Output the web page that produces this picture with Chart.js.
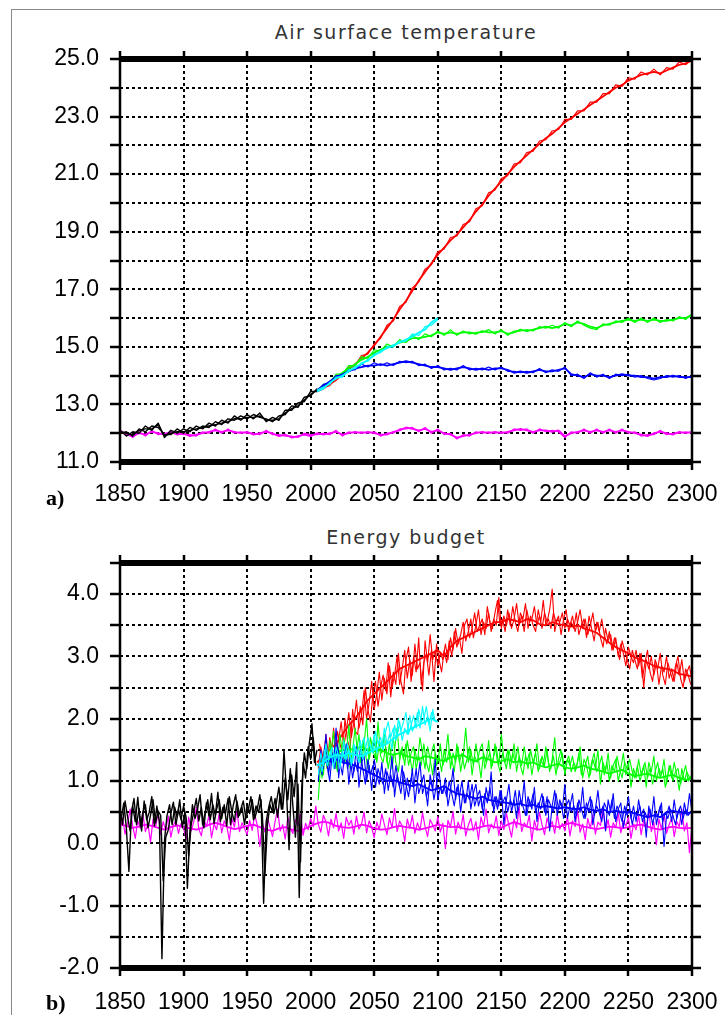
<!DOCTYPE html>
<html>
<head>
<meta charset="utf-8">
<script src="https://cdn.jsdelivr.net/npm/chart.js@4.4.1/dist/chart.umd.min.js"></script>
<style>
  html, body { margin: 0; padding: 0; background: #fff; }
  body { width: 725px; height: 1015px; position: relative; overflow: hidden; }
  .sheet { position: absolute; left: 11px; top: 9px; right: -4px; bottom: -4px;
           border-left: 1px solid #888; border-top: 1px solid #888; }
  .panel { position: absolute; left: 0; width: 725px; }
  .panel canvas { display: block; }
  .title { position: absolute; left: 120px; width: 572px; text-align: center; line-height: 23px;
           font: 19px "DejaVu Sans", sans-serif; letter-spacing: 1.5px; color: #333; }
  .tag { position: absolute; left: 46px; line-height: 24px; font: bold 22px "Liberation Serif", serif; }
</style>
</head>
<body>
<div class="sheet"></div>
<div class="title" style="top:21px">Air surface temperature</div>
<div class="panel" style="top:0"><canvas id="tasChart" width="725" height="510"></canvas></div>
<div class="tag" style="top:485px">a)</div>
<div class="title" style="top:526px">Energy budget</div>
<div class="panel" style="top:510px"><canvas id="budgetChart" width="725" height="505"></canvas></div>
<div class="tag" style="top:990px">b)</div>

<script>
// ---------- Air surface temperature (5-yearly) ----------
// control run, 1850-2300
const tasCtrlA = [
  12.1, 11.95, 11.9, 12.0, 11.95, 12.05, 12.0, 11.95, 12.05, 11.95,
  12.0, 11.9, 11.95, 12.0, 12.05, 12.1, 12.05, 12.1, 12.05, 12.0,
  12.05, 11.95, 12.0, 12.05, 12.0, 11.9, 11.95, 11.85, 11.9, 11.95,
  11.9, 12.0, 11.95, 12.0, 12.05, 11.95, 12.0, 12.05, 12.0, 12.05,
  12.0, 11.95, 11.95, 12.05, 12.1, 12.2, 12.15, 12.1, 12.15, 12.05,
  12.1, 12.0, 11.95, 11.85, 11.9, 11.95, 12.0, 12.05, 12.0, 12.05,
  12.0, 12.05, 12.1, 12.15, 12.1, 12.05, 12.1, 12.1, 12.05, 12.1,
  11.9, 12.0, 12.05, 12.1, 12.05, 12.1, 12.05, 12.1, 12.05, 12.1,
  12.05, 12.0, 11.95, 11.9, 12.0, 12.05, 12.0, 11.95, 12.05, 12.0,
  12.05
];
const tasCtrlB = [
  12.05, 12.0, 11.85, 12.05, 11.9, 12.1, 11.95, 12.0, 12.0, 12.0,
  11.95, 11.95, 11.9, 12.05, 12.0, 12.15, 12.0, 12.15, 12.0, 12.05,
  12.0, 12.0, 11.95, 12.1, 11.95, 11.95, 11.9, 11.9, 11.85, 12.0,
  11.95, 11.95, 12.0, 11.95, 12.1, 11.9, 12.05, 12.0, 12.05, 12.0,
  12.05, 11.9, 12.0, 12.0, 12.15, 12.15, 12.2, 12.05, 12.2, 12.0,
  12.15, 11.95, 12.0, 11.8, 11.95, 11.9, 12.05, 12.0, 12.05, 12.0,
  12.05, 12.0, 12.15, 12.1, 12.15, 12.0, 12.15, 12.05, 12.1, 12.05,
  11.85, 12.05, 12.0, 12.15, 12.0, 12.15, 12.0, 12.15, 12.0, 12.15,
  12.0, 12.05, 11.9, 11.95, 11.95, 12.1, 11.95, 12.0, 12.0, 12.05,
  12.0
];
// historical members, 1850-2005
const tasHistA = [
  12.05, 12.0, 11.95, 12.1, 12.15, 12.15, 12.3, 11.9, 12.0, 12.05,
  12.05, 12.1, 12.15, 12.2, 12.25, 12.3, 12.35, 12.4, 12.5, 12.5,
  12.55, 12.55, 12.6, 12.45, 12.45, 12.5, 12.7, 12.85, 12.95, 13.15,
  13.35, 13.5
];
const tasHistB = [
  12.1, 11.9, 12.05, 12.0, 12.25, 12.1, 12.35, 11.85, 12.1, 12.0,
  12.15, 12.05, 12.25, 12.15, 12.35, 12.25, 12.45, 12.35, 12.6, 12.45,
  12.65, 12.5, 12.7, 12.4, 12.55, 12.45, 12.8, 12.8, 13.05, 13.1,
  13.45, 13.45
];
const tasHistC = [
  12.0, 12.05, 11.9, 12.15, 12.05, 12.25, 12.2, 11.95, 11.95, 12.15,
  12.0, 12.2, 12.1, 12.25, 12.2, 12.4, 12.3, 12.5, 12.45, 12.6,
  12.5, 12.65, 12.55, 12.5, 12.4, 12.6, 12.65, 12.95, 12.9, 13.25,
  13.3, 13.55
];
// scenarios, 2005-2300 (RCP6.0 to 2100)
const tasRcp85A = [
  13.45, 13.55, 13.7, 13.85, 14.05, 14.2, 14.4, 14.6, 14.8, 15.05,
  15.35, 15.65, 15.95, 16.3, 16.6, 16.95, 17.3, 17.6, 17.9, 18.2,
  18.45, 18.7, 18.9, 19.15, 19.4, 19.7, 19.95, 20.25, 20.5, 20.75,
  21.0, 21.25, 21.45, 21.65, 21.85, 22.05, 22.25, 22.4, 22.6, 22.8,
  22.95, 23.1, 23.25, 23.4, 23.55, 23.7, 23.85, 24.0, 24.1, 24.25,
  24.35, 24.45, 24.5, 24.55, 24.5, 24.6, 24.7, 24.8, 24.85, 24.95
];
const tasRcp85B = [
  13.5, 13.6, 13.65, 13.95, 14.0, 14.3, 14.35, 14.7, 14.75, 15.1,
  15.3, 15.75, 15.9, 16.4, 16.55, 17.05, 17.25, 17.7, 17.85, 18.3,
  18.4, 18.8, 18.85, 19.25, 19.35, 19.8, 19.9, 20.35, 20.45, 20.85,
  20.95, 21.35, 21.4, 21.75, 21.8, 22.15, 22.2, 22.5, 22.55, 22.9,
  22.9, 23.2, 23.2, 23.5, 23.5, 23.8, 23.8, 24.1, 24.05, 24.35,
  24.3, 24.55, 24.45, 24.65, 24.45, 24.7, 24.65, 24.9, 24.8, 25.0
];
const tasRcp45A = [
  13.5, 13.6, 13.8, 13.95, 14.1, 14.25, 14.4, 14.55, 14.65, 14.8,
  14.9, 15.0, 15.05, 15.15, 15.2, 15.3, 15.3, 15.35, 15.4, 15.5,
  15.45, 15.5, 15.45, 15.5, 15.5, 15.45, 15.55, 15.5, 15.5, 15.55,
  15.45, 15.5, 15.6, 15.55, 15.6, 15.65, 15.7, 15.65, 15.7, 15.8,
  15.75, 15.85, 15.8, 15.7, 15.65, 15.75, 15.8, 15.85, 15.9, 15.95,
  15.9, 15.95, 15.9, 15.95, 15.9, 15.9, 15.95, 16.0, 16.0, 16.1
];
const tasRcp45B = [
  13.45, 13.7, 13.75, 14.05, 14.05, 14.35, 14.35, 14.65, 14.6, 14.9,
  14.85, 15.1, 15.0, 15.25, 15.15, 15.4, 15.25, 15.45, 15.35, 15.55,
  15.4, 15.6, 15.4, 15.55, 15.45, 15.5, 15.5, 15.6, 15.45, 15.6,
  15.4, 15.55, 15.55, 15.6, 15.55, 15.7, 15.65, 15.75, 15.65, 15.85,
  15.7, 15.9, 15.75, 15.65, 15.6, 15.8, 15.75, 15.9, 15.85, 16.0,
  15.85, 16.0, 15.85, 16.0, 15.85, 15.95, 15.9, 16.05, 15.95, 16.15
];
const tasRcp26A = [
  13.5, 13.65, 13.8, 13.95, 14.05, 14.15, 14.25, 14.3, 14.35, 14.35,
  14.4, 14.35, 14.4, 14.45, 14.5, 14.45, 14.4, 14.35, 14.3, 14.3,
  14.25, 14.2, 14.25, 14.3, 14.25, 14.2, 14.25, 14.2, 14.25, 14.25,
  14.2, 14.1, 14.15, 14.1, 14.15, 14.2, 14.15, 14.15, 14.2, 14.25,
  14.05, 14.0, 13.95, 14.05, 14.0, 14.0, 13.95, 14.0, 14.05, 14.0,
  14.0, 13.95, 13.95, 13.9, 13.95, 13.95, 14.0, 13.95, 13.95, 13.95
];
const tasRcp26B = [
  13.45, 13.7, 13.75, 14.0, 14.0, 14.2, 14.2, 14.4, 14.3, 14.45,
  14.35, 14.45, 14.35, 14.5, 14.45, 14.5, 14.35, 14.4, 14.25, 14.35,
  14.2, 14.25, 14.2, 14.35, 14.2, 14.25, 14.2, 14.3, 14.2, 14.3,
  14.15, 14.15, 14.1, 14.15, 14.1, 14.25, 14.1, 14.2, 14.15, 14.3,
  14.0, 14.05, 13.9, 14.1, 13.95, 14.05, 13.9, 14.05, 14.0, 14.05,
  13.95, 14.0, 13.9, 13.85, 13.9, 14.0, 13.95, 14.0, 13.9, 14.0
];
const tasRcp60A = [
  13.45, 13.55, 13.75, 13.9, 14.0, 14.15, 14.3, 14.4, 14.55, 14.7,
  14.85, 14.95, 15.05, 15.15, 15.25, 15.35, 15.5, 15.6, 15.85, 16.0
];
const tasRcp60B = [
  13.5, 13.6, 13.7, 13.95, 13.95, 14.2, 14.25, 14.45, 14.5, 14.75,
  14.8, 15.0, 15.0, 15.2, 15.2, 15.45, 15.4, 15.7, 15.75, 15.95
];

// ---------- Energy budget ----------
// control run: 2-yearly values 1850-2300 and 5-yearly running mean
const budCtrlRun = [
  0.22, 0.41, 0.15, 0.33, 0.55, 0.28, 0.08, 0.36, 0.24, 0.47, 0.19, 0.31, 0.02, 0.39, 0.26, 0.5, 0.14, 0.35, 0.21, 0.44, 0.1, 0.29, 0.37, 0.16, 0.32,
  0.25, 0.06, 0.42, 0.2, 0.34, 0.58, 0.23, 0.12, 0.38, 0.27, 0.45, 0.09, 0.31, 0.22, 0.48, 0.17, 0.36, 0.28, 0.05, 0.4, 0.26, 0.52, 0.19, 0.33, 0.24,
  0.14, 0.37, 0.21, 0.46, 0.29, -0.05, 0.33, 0.18, 0.41, 0.26, 0.11, 0.35, 0.55, 0.2, 0.3, 0.07, 0.43, 0.24, 0.16, 0.38, 0.28, 0.47, 0.13, 0.32, 0.22,
  0.4, 0.27, 0.6, 0.31, 0.18, 0.45, 0.35, 0.12, 0.39, 0.25, 0.48, 0.2, 0.33, 0.08, 0.42, 0.29, 0.37, 0.15, 0.44, 0.23, 0.31, 0.5, 0.17, 0.36, 0.26,
  0.09, 0.34, 0.22, 0.47, 0.3, 0.14, 0.41, 0.25, 0.56, 0.19, 0.36, 0.28, 0.03, 0.39, 0.24, 0.45, 0.16, 0.33, 0.21, 0.49, 0.27, 0.11, 0.38, 0.3, 0.2,
  0.43, 0.18, 0.32, -0.08, 0.37, 0.26, 0.51, 0.15, 0.34, 0.23, 0.46, 0.12, 0.29, 0.4, 0.2, 0.35, 0.06, 0.42, 0.27, 0.55, 0.17, 0.31, 0.24, 0.44, 0.13,
  0.36, 0.22, 0.48, 0.28, 0.1, 0.39, 0.25, 0.58, 0.19, 0.33, 0.27, 0.45, 0.04, 0.37, 0.21, 0.5, 0.3, 0.14, 0.41, 0.26, 0.35, 0.16, 0.47, 0.23, 0.32,
  0.2, 0.43, 0.12, 0.36, 0.27, 0.53, 0.18, 0.31, 0.06, 0.4, 0.24, 0.46, 0.15, 0.34, 0.29, 0.57, 0.21, 0.38, 0.1, 0.33, 0.25, 0.49, 0.17, 0.36, 0.28,
  0.42, 0.08, 0.31, 0.22, 0.45, 0.14, 0.37, 0.26, 0.52, 0.19, 0.34, -0.02, 0.39, 0.23, 0.47, 0.16, 0.3, 0.41, 0.11, 0.35, 0.27, 0.55, 0.2, 0.33, -0.15,
  0.3
];
const budCtrlMean = [
  0.3, 0.28, 0.25, 0.27, 0.3, 0.28, 0.25, 0.22, 0.26, 0.29,
  0.27, 0.24, 0.22, 0.25, 0.3, 0.33, 0.3, 0.26, 0.23, 0.25,
  0.28, 0.3, 0.26, 0.22, 0.2, 0.24, 0.26, 0.22, 0.2, 0.23,
  0.28, 0.32, 0.35, 0.33, 0.28, 0.26, 0.25, 0.27, 0.3, 0.28,
  0.24, 0.22, 0.23, 0.26, 0.28, 0.26, 0.25, 0.22, 0.24, 0.27,
  0.3, 0.28, 0.26, 0.27, 0.24, 0.22, 0.24, 0.27, 0.29, 0.26,
  0.25, 0.3, 0.34, 0.31, 0.27, 0.24, 0.22, 0.25, 0.28, 0.26,
  0.3, 0.33, 0.3, 0.27, 0.25, 0.23, 0.25, 0.27, 0.26, 0.24,
  0.26, 0.29, 0.3, 0.27, 0.24, 0.22, 0.25, 0.27, 0.25, 0.24,
  0.25
];
// historical members: even years 1850-2004, odd years 1851-2005
const budHistEven = [
  0.55, 0.3, 0.68, 0.42, 0.2, 0.6, 0.35, 0.74, 0.28, 0.5, 0.62, 0.25, 0.45, 0.7, 0.33, 0.52, 0.45, -0.6, 0.1, 0.22, 0.48, 0.66, 0.3, 0.55, 0.38,
  0.6, 0.42, -0.2, 0.3, 0.5, 0.72, 0.36, 0.58, 0.25, 0.65, 0.44, 0.8, 0.32, 0.55, 0.7, 0.4, 0.62, 0.28, 0.75, 0.5, 0.35, 0.68, 0.45, 0.58, 0.3,
  0.62, 0.48, 0.7, 0.4, 0.55, 0.78, 0.45, -0.5, 0.3, 0.62, 0.5, 0.72, 0.42, 0.8, 0.55, 1.05, 0.7, 1.2, 0.6, 0.1, 0.95, -0.3, 1.3, 1.05, 1.55,
  1.35, 1.7, 1.25
];
const budHistOdd = [
  0.4, 0.65, 0.25, -0.45, 0.5, 0.72, 0.3, 0.56, 0.2, 0.68, 0.38, 0.5, 0.75, 0.28, 0.6, 0.35, -1.85, 0.05, 0.45, 0.62, 0.3, 0.58, 0.42, 0.7, 0.25,
  0.5, -0.72, 0.2, 0.62, 0.4, 0.55, 0.78, 0.3, 0.5, 0.7, 0.38, 0.62, 0.45, 0.82, 0.35, 0.58, 0.48, 0.72, 0.3, 0.6, 0.78, 0.42, 0.55, 0.68, 0.4,
  0.55, 0.75, 0.38, 0.6, 0.5, 0.7, -0.96, 0.35, 0.58, 0.75, 0.48, 0.65, 0.9, 0.55, 1.5, 0.82, -0.1, 1.1, 0.75, 1.3, -0.87, 0.9, 1.45, 1.2, 1.62,
  1.92, 1.3, 1.5
];
// scenarios: runs on even years from 2006 and odd years from 2007, 5-yearly means from 2005
const budRcp85Even = [
  1.2, 1.55, 1.35, 1.75, 1.4, 1.3, 1.85, 1.5, 1.65, 1.95, 1.55, 1.8, 2.1, 1.7, 1.95, 2.3, 1.85, 2.05, 2.45, 2.0, 2.25, 2.6, 2.15, 2.4, 2.75,
  2.3, 2.65, 2.4, 2.85, 2.5, 2.7, 3.0, 2.55, 2.8, 3.1, 2.65, 2.95, 2.7, 3.2, 2.8, 2.9, 2.45, 3.25, 2.9, 3.35, 2.95, 3.1, 2.85, 3.05, 2.95,
  3.2, 2.95, 3.3, 3.1, 3.45, 3.2, 3.35, 3.55, 3.25, 3.4, 3.6, 3.3, 3.5, 3.75, 3.35, 3.55, 3.45, 3.7, 3.4, 3.6, 3.5, 3.95, 3.45, 3.65, 3.5,
  3.7, 3.45, 3.6, 3.85, 3.5, 3.65, 3.4, 3.75, 3.55, 3.6, 3.8, 3.5, 3.65, 3.45, 3.7, 3.55, 3.75, 4.08, 3.4, 3.6, 3.55, 3.7, 3.45, 3.6, 3.5,
  3.65, 3.4, 3.55, 3.75, 3.45, 3.6, 3.35, 3.5, 3.7, 3.4, 3.55, 3.3, 3.15, 3.45, 3.25, 3.35, 3.1, 3.3, 3.0, 3.2, 3.05, 2.85, 3.15, 3.0, 2.9,
  3.1, 2.85, 3.05, 2.5, 2.95, 2.8, 3.0, 2.7, 2.9, 2.55, 2.85, 2.75, 3.0, 2.65, 2.8, 2.6, 2.9, 2.7, 2.95, 2.6, 2.75, 2.85, 2.6
];
const budRcp85Odd = [
  1.6, 1.25, 1.5, 1.2, 1.7, 1.45, 1.35, 1.8, 1.6, 1.45, 2.0, 1.65, 1.5, 2.15, 1.8, 1.75, 2.2, 1.9, 2.5, 2.15, 1.95, 2.4, 2.6, 2.2, 2.5,
  2.7, 2.45, 2.9, 2.35, 2.75, 2.55, 3.05, 2.6, 2.4, 2.95, 3.15, 2.6, 3.0, 2.75, 3.3, 2.55, 2.9, 3.05, 2.7, 3.1, 2.6, 3.2, 2.95, 2.75, 3.1,
  2.9, 3.25, 3.0, 3.4, 3.15, 3.3, 3.05, 3.5, 3.6, 3.3, 3.45, 3.7, 3.4, 3.5, 3.6, 3.35, 3.8, 3.55, 3.45, 3.7, 3.9, 3.5, 3.6, 3.4, 3.75,
  3.5, 3.8, 3.55, 3.4, 3.7, 3.6, 3.85, 3.45, 3.65, 3.5, 3.4, 3.75, 3.55, 3.9, 3.5, 3.6, 3.45, 3.7, 3.55, 3.65, 3.35, 3.6, 3.75, 3.4, 3.55,
  3.45, 3.7, 3.35, 3.5, 3.6, 3.3, 3.65, 3.45, 3.25, 3.55, 3.4, 3.6, 3.35, 3.2, 3.4, 3.1, 3.3, 3.15, 2.95, 3.25, 3.1, 2.95, 2.8, 3.1, 2.95,
  2.8, 3.05, 2.65, 2.9, 3.1, 2.75, 2.6, 2.95, 2.8, 3.05, 2.7, 2.55, 2.9, 2.75, 2.6, 2.85, 3.0, 2.65, 2.5, 2.8, 2.7, 2.55
];
const budRcp85Mean = [
  1.3, 1.4, 1.5, 1.6, 1.75, 1.9, 2.0, 2.15, 2.3, 2.4,
  2.5, 2.6, 2.7, 2.8, 2.85, 2.9, 2.95, 3.0, 3.05, 3.1,
  3.0, 3.15, 3.25, 3.3, 3.35, 3.4, 3.45, 3.5, 3.55, 3.55,
  3.6, 3.58, 3.55, 3.6, 3.58, 3.52, 3.5, 3.55, 3.52, 3.5,
  3.48, 3.5, 3.45, 3.42, 3.38, 3.3, 3.22, 3.15, 3.1, 3.05,
  2.98, 2.95, 2.9, 2.85, 2.82, 2.8, 2.78, 2.72, 2.7, 2.68
];
const budRcp45Even = [
  0.7, 1.35, 1.1, 1.6, 1.25, 1.45, 1.8, 1.2, 1.5, 1.35, 1.7, 1.4, 1.9, 1.3, 1.55, 1.45, 1.75, 1.25, 1.6, 2.0, 1.35, 1.55, 1.7, 1.3, 1.6,
  1.45, 1.75, 1.3, 1.6, 1.2, 1.5, 1.85, 1.35, 1.55, 1.25, 1.65, 1.4, 1.15, 1.5, 1.3, 1.7, 1.45, 1.2, 1.55, 1.35, 1.1, 1.45, 1.3, 1.6, 1.25,
  1.4, 1.75, 1.2, 1.45, 1.3, 1.55, 1.15, 1.4, 1.85, 1.3, 1.5, 1.25, 1.6, 1.35, 1.05, 1.45, 1.3, 1.65, 1.2, 1.4, 1.55, 1.25, 1.75, 1.35, 1.2,
  1.5, 1.3, 1.6, 1.15, 1.4, 1.25, 1.55, 1.3, 1.45, 1.1, 1.35, 1.6, 1.2, 1.4, 1.25, 1.5, 1.15, 1.35, 1.7, 1.2, 1.3, 1.45, 1.1, 1.35, 1.25,
  1.4, 1.15, 1.3, 1.55, 1.05, 1.25, 1.4, 1.1, 1.35, 1.2, 1.5, 0.95, 1.3, 1.15, 1.45, 1.05, 1.25, 1.35, 1.0, 1.2, 1.45, 1.1, 1.3, 0.9, 1.2,
  1.05, 1.35, 1.1, 1.25, 0.9, 1.3, 1.15, 1.4, 1.0, 1.2, 1.1, 1.35, 0.95, 1.25, 1.05, 1.3, 1.1, 0.85, 1.2, 1.0, 1.15, 1.05, 1.1
];
const budRcp45Odd = [
  1.3, 1.05, 1.55, 1.2, 1.65, 1.3, 1.5, 1.15, 1.75, 1.45, 1.3, 1.6, 1.2, 1.5, 1.85, 1.4, 1.3, 1.65, 1.45, 1.2, 1.7, 1.5, 1.35, 1.95, 1.4,
  1.3, 1.55, 1.2, 1.45, 1.7, 1.3, 1.15, 1.5, 1.35, 1.6, 1.25, 1.45, 1.55, 1.2, 1.4, 1.25, 1.6, 1.3, 1.15, 1.45, 1.6, 1.25, 1.4, 1.15, 1.5,
  1.3, 1.5, 1.35, 1.15, 1.6, 1.3, 1.45, 1.2, 1.35, 1.55, 1.1, 1.4, 1.3, 1.5, 1.6, 1.2, 1.35, 1.45, 1.25, 1.6, 1.3, 1.15, 1.45, 1.3, 1.5,
  1.2, 1.45, 1.3, 1.55, 1.25, 1.1, 1.4, 1.2, 1.5, 1.3, 1.45, 1.15, 1.35, 1.25, 1.55, 1.3, 1.2, 1.4, 1.1, 1.35, 1.5, 1.2, 1.3, 1.4, 1.15,
  1.3, 1.2, 1.45, 1.1, 1.35, 1.25, 1.05, 1.3, 1.45, 1.15, 1.25, 1.4, 1.1, 1.3, 1.0, 1.25, 1.15, 1.4, 1.2, 1.05, 1.3, 1.2, 1.35, 1.15, 1.05,
  1.25, 1.0, 1.15, 1.3, 1.05, 1.2, 0.95, 1.15, 1.3, 1.05, 1.2, 0.9, 1.1, 1.25, 1.0, 1.15, 1.2, 0.95, 1.1, 1.25, 1.0, 1.05
];
const budRcp45Mean = [
  1.25, 1.3, 1.4, 1.45, 1.5, 1.5, 1.52, 1.55, 1.5, 1.48,
  1.5, 1.45, 1.42, 1.45, 1.4, 1.38, 1.35, 1.4, 1.38, 1.35,
  1.32, 1.38, 1.4, 1.42, 1.35, 1.32, 1.38, 1.35, 1.3, 1.32,
  1.35, 1.3, 1.32, 1.28, 1.3, 1.25, 1.22, 1.25, 1.28, 1.22,
  1.2, 1.22, 1.25, 1.2, 1.18, 1.15, 1.12, 1.15, 1.18, 1.12,
  1.08, 1.1, 1.12, 1.08, 1.05, 1.08, 1.1, 1.05, 1.02, 1.05
];
const budRcp26Even = [
  1.0, 1.5, 1.2, 1.75, 1.1, 1.4, 1.3, 1.85, 1.05, 1.45, 1.25, 1.6, 0.95, 1.35, 1.15, 1.55, 0.9, 1.3, 1.4, 1.0, 1.25, 0.85, 1.35, 1.1, 0.95,
  1.3, 0.8, 1.15, 1.0, 1.4, 0.75, 1.1, 0.9, 1.25, 0.7, 1.05, 0.85, 1.2, 0.65, 1.0, 1.3, 0.8, 0.95, 0.6, 1.1, 0.85, 1.35, 0.7, 0.9, 0.8,
  1.05, 0.6, 0.85, 1.2, 0.7, 0.95, 0.5, 0.85, 0.65, 1.0, 0.55, 0.8, 0.95, 0.6, 0.75, 0.45, 0.9, 0.7, 1.15, 0.5, 0.75, 0.6, 0.85, 0.3, 0.7,
  0.95, 0.5, 0.7, 0.4, 0.85, 0.6, 1.0, 0.45, 0.7, 0.55, 0.9, 0.35, 0.65, 0.8, 0.5, 0.75, 0.2, 0.6, 0.85, 0.45, 0.7, 0.55, 0.95, 0.4, 0.6,
  0.8, 0.35, 0.65, 0.5, 0.9, 0.4, 0.6, 0.75, 0.3, 0.55, 0.85, 0.45, 0.6, 0.2, 0.7, 0.5, 0.8, 0.35, 0.55, 0.65, 0.25, 0.5, 0.75, 0.4, 0.6,
  0.35, 0.7, 0.45, 0.55, 0.1, 0.6, 0.4, 0.75, 0.3, 0.5, 0.65, -0.05, 0.45, 0.6, 0.35, 0.7, 0.4, 0.55, 0.3, 0.65, 0.45, 0.8, 0.5
];
const budRcp26Odd = [
  1.35, 1.1, 1.55, 1.25, 1.0, 1.45, 1.2, 1.6, 1.3, 1.1, 1.5, 1.2, 1.4, 1.05, 1.3, 1.15, 1.5, 1.2, 0.95, 1.35, 1.1, 1.25, 0.9, 1.2, 1.05,
  0.95, 1.2, 0.85, 1.1, 0.9, 1.25, 1.0, 0.8, 1.15, 0.95, 0.75, 1.05, 0.9, 1.2, 0.8, 0.95, 1.1, 0.75, 0.9, 1.0, 0.7, 0.95, 1.15, 0.8, 0.9,
  0.75, 1.0, 0.8, 0.6, 0.9, 0.75, 1.0, 0.65, 0.8, 0.7, 0.95, 0.6, 0.75, 0.85, 0.55, 0.8, 0.65, 0.9, 0.6, 0.75, 0.55, 0.85, 0.65, 0.75, 0.5,
  0.7, 0.6, 0.85, 0.5, 0.7, 0.6, 0.45, 0.75, 0.6, 0.8, 0.5, 0.65, 0.55, 0.75, 0.45, 0.7, 0.6, 0.5, 0.8, 0.55, 0.65, 0.4, 0.6, 0.7, 0.5,
  0.6, 0.45, 0.7, 0.55, 0.4, 0.65, 0.5, 0.7, 0.45, 0.6, 0.5, 0.35, 0.65, 0.55, 0.45, 0.7, 0.4, 0.6, 0.5, 0.35, 0.6, 0.45, 0.55, 0.3, 0.5,
  0.45, 0.6, 0.35, 0.5, 0.4, 0.55, 0.3, 0.5, 0.45, 0.6, 0.35, 0.5, 0.4, 0.55, 0.45, 0.3, 0.5, 0.6, 0.4, 0.55, 0.45, 0.5
];
const budRcp26Mean = [
  1.25, 1.3, 1.32, 1.35, 1.3, 1.28, 1.25, 1.2, 1.15, 1.1,
  1.05, 1.0, 1.02, 0.98, 0.95, 0.92, 0.95, 0.9, 0.85, 0.88,
  0.92, 0.85, 0.8, 0.78, 0.75, 0.72, 0.75, 0.7, 0.68, 0.66,
  0.65, 0.62, 0.64, 0.6, 0.62, 0.58, 0.6, 0.58, 0.56, 0.58,
  0.56, 0.55, 0.58, 0.54, 0.52, 0.55, 0.5, 0.52, 0.5, 0.5,
  0.48, 0.45, 0.42, 0.45, 0.42, 0.5, 0.52, 0.5, 0.48, 0.5
];
const budRcp60Even = [
  1.1, 1.45, 1.25, 1.6, 1.35, 1.5, 1.2, 1.55, 1.4, 1.3,
  1.65, 1.35, 1.5, 1.25, 1.6, 1.45, 1.3, 1.55, 1.7, 1.4,
  1.6, 1.5, 1.75, 1.45, 1.65, 1.55, 1.85, 1.6, 1.75, 1.5,
  1.9, 1.7, 1.95, 1.65, 1.85, 1.75, 2.05, 1.8, 1.9, 2.1,
  1.85, 2.2, 1.9, 2.05, 1.8, 2.15, 1.95
];
const budRcp60Odd = [
  1.3, 1.15, 1.5, 1.25, 1.4, 1.55, 1.3, 1.45, 1.2, 1.5,
  1.35, 1.6, 1.4, 1.3, 1.55, 1.45, 1.65, 1.35, 1.5, 1.7,
  1.55, 1.45, 1.8, 1.6, 1.7, 1.5, 1.8, 1.95, 1.7, 1.85,
  1.65, 2.0, 1.8, 1.95, 2.1, 1.75, 1.9, 2.05, 1.85, 2.15,
  1.95, 2.0, 2.2, 1.9, 2.1, 2.0
];
const budRcp60Mean = [
  1.25, 1.3, 1.38, 1.42, 1.4, 1.45, 1.42, 1.4, 1.45, 1.5,
  1.55, 1.6, 1.68, 1.75, 1.8, 1.85, 1.9, 1.95, 2.0, 1.95
];

const RED = "#ff0000", GREEN = "#00ff00", BLUE = "#0000ff", CYAN = "#00ffff", MAGENTA = "#ff00ff", BLACK = "#000000";

// year/value pairs from a start year and a fixed step
const series = (start, step, values) => values.map((v, i) => ({ x: start + i * step, y: v }));

function line(points, color, width, order) {
  return {
    data: points, borderColor: color, borderWidth: width, order,
    pointRadius: 0, tension: 0, fill: false, borderJoinStyle: "round",
  };
}

// dotted grid under the data, framed box with outward ticks on top of it
const gradsFrame = {
  id: "gradsFrame",
  beforeDatasetsDraw(chart) {
    const { ctx, chartArea: a, scales: { x, y } } = chart;
    ctx.save();
    ctx.strokeStyle = "#000";
    ctx.lineWidth = 2;
    ctx.setLineDash([3, 3]);
    ctx.beginPath();
    x.ticks.forEach((t) => {
      const px = Math.round(x.getPixelForValue(t.value));
      if (px <= a.left + 1 || px >= a.right - 1) return;
      ctx.moveTo(px, a.top);
      ctx.lineTo(px, a.bottom);
    });
    y.ticks.forEach((t) => {
      const py = Math.round(y.getPixelForValue(t.value));
      if (py <= a.top + 1 || py >= a.bottom - 1) return;
      ctx.moveTo(a.left, py);
      ctx.lineTo(a.right, py);
    });
    ctx.stroke();
    ctx.restore();
  },
  afterDatasetsDraw(chart) {
    const { ctx, chartArea: a, scales: { x, y } } = chart;
    ctx.save();
    ctx.strokeStyle = "#000";
    ctx.fillStyle = "#000";
    ctx.lineWidth = 2.5;
    ctx.beginPath();
    x.ticks.forEach((t) => {
      const px = Math.round(x.getPixelForValue(t.value));
      ctx.moveTo(px, a.top - 8);
      ctx.lineTo(px, a.top);
      ctx.moveTo(px, a.bottom);
      ctx.lineTo(px, a.bottom + 8);
    });
    y.ticks.forEach((t) => {
      const py = Math.round(y.getPixelForValue(t.value));
      ctx.moveTo(a.left - 10, py);
      ctx.lineTo(a.left, py);
      ctx.moveTo(a.right, py);
      ctx.lineTo(a.right + 9, py);
    });
    ctx.moveTo(a.left, a.top);
    ctx.lineTo(a.left, a.bottom);
    ctx.moveTo(a.right, a.top);
    ctx.lineTo(a.right, a.bottom);
    ctx.stroke();
    // heavy top and bottom rules
    ctx.fillRect(a.left - 1, a.top - 3, a.right - a.left + 2, 6);
    ctx.fillRect(a.left - 1, a.bottom - 3, a.right - a.left + 2, 6);
    ctx.restore();
  },
};

Chart.defaults.font.family = '"Liberation Sans", Arial, sans-serif';
Chart.defaults.color = "#000";

function panelOptions({ yMin, yMax, yStep, isLabelled, topPad, axisHeight, labelPad }) {
  const tickFont = { size: 23 };
  return {
    responsive: false,
    animation: false,
    events: [],
    layout: { padding: { top: topPad, right: 33, left: 0, bottom: 0 } },
    plugins: { legend: { display: false }, tooltip: { enabled: false } },
    scales: {
      x: {
        type: "linear", min: 1850, max: 2300,
        grid: { display: false }, border: { display: false },
        ticks: { stepSize: 50, autoSkip: false, maxRotation: 0, padding: labelPad, font: tickFont, color: "#000",
                 callback: (v) => String(v) },
        afterFit: (s) => { s.height = axisHeight; s.paddingLeft = 0; s.paddingRight = 0; },
      },
      y: {
        type: "linear", min: yMin, max: yMax,
        grid: { display: false }, border: { display: false },
        ticks: { stepSize: yStep, autoSkip: false, padding: 13, font: tickFont, color: "#000",
                 callback: (v) => (isLabelled(v) ? v.toFixed(1) : "") },
        afterFit: (s) => { s.width = 120; },
      },
    },
  };
}

// --- temperature panel ---
new Chart(document.getElementById("tasChart"), {
  type: "line",
  data: {
    datasets: [
      line(series(2005, 5, tasRcp60B), CYAN, 1.2, 2),
      line(series(2005, 5, tasRcp60A), CYAN, 1.8, 1),
      line(series(2005, 5, tasRcp26B), BLUE, 1.2, 4),
      line(series(2005, 5, tasRcp26A), BLUE, 1.8, 3),
      line(series(2005, 5, tasRcp45B), GREEN, 1.2, 6),
      line(series(2005, 5, tasRcp45A), GREEN, 1.8, 5),
      line(series(2005, 5, tasRcp85B), RED, 1.2, 8),
      line(series(2005, 5, tasRcp85A), RED, 1.8, 7),
      line(series(1850, 5, tasHistA), BLACK, 1.4, 9),
      line(series(1850, 5, tasHistB), BLACK, 1.4, 10),
      line(series(1850, 5, tasHistC), BLACK, 1.4, 11),
      line(series(1850, 5, tasCtrlB), MAGENTA, 1.2, 13),
      line(series(1850, 5, tasCtrlA), MAGENTA, 1.8, 12),
    ],
  },
  options: panelOptions({
    yMin: 11, yMax: 25, yStep: 1,
    isLabelled: (v) => Math.round(v - 11) % 2 === 0,
    topPad: 59, axisHeight: 48, labelPad: 11,
  }),
  plugins: [gradsFrame],
});

// --- energy budget panel ---
new Chart(document.getElementById("budgetChart"), {
  type: "line",
  data: {
    datasets: [
      line(series(2005, 5, budRcp60Mean), CYAN, 1.8, 1),
      line(series(2006, 2, budRcp60Even), CYAN, 1.1, 2),
      line(series(2007, 2, budRcp60Odd), CYAN, 1.1, 2),
      line(series(2005, 5, budRcp26Mean), BLUE, 1.8, 3),
      line(series(2006, 2, budRcp26Even), BLUE, 1.1, 4),
      line(series(2007, 2, budRcp26Odd), BLUE, 1.1, 4),
      line(series(2005, 5, budRcp45Mean), GREEN, 1.8, 5),
      line(series(2006, 2, budRcp45Even), GREEN, 1.1, 6),
      line(series(2007, 2, budRcp45Odd), GREEN, 1.1, 6),
      line(series(2005, 5, budRcp85Mean), RED, 1.8, 7),
      line(series(2006, 2, budRcp85Even), RED, 1.1, 8),
      line(series(2007, 2, budRcp85Odd), RED, 1.1, 8),
      line(series(1850, 2, budHistEven), BLACK, 1.4, 9),
      line(series(1851, 2, budHistOdd), BLACK, 1.4, 10),
      line(series(1850, 5, budCtrlMean), MAGENTA, 1.8, 11),
      line(series(1850, 2, budCtrlRun), MAGENTA, 1.2, 12),
    ],
  },
  options: panelOptions({
    yMin: -2, yMax: 4.5, yStep: 0.5,
    isLabelled: (v) => Number.isInteger(v),
    topPad: 53, axisHeight: 47, labelPad: 13,
  }),
  plugins: [gradsFrame],
});
</script>
</body>
</html>
